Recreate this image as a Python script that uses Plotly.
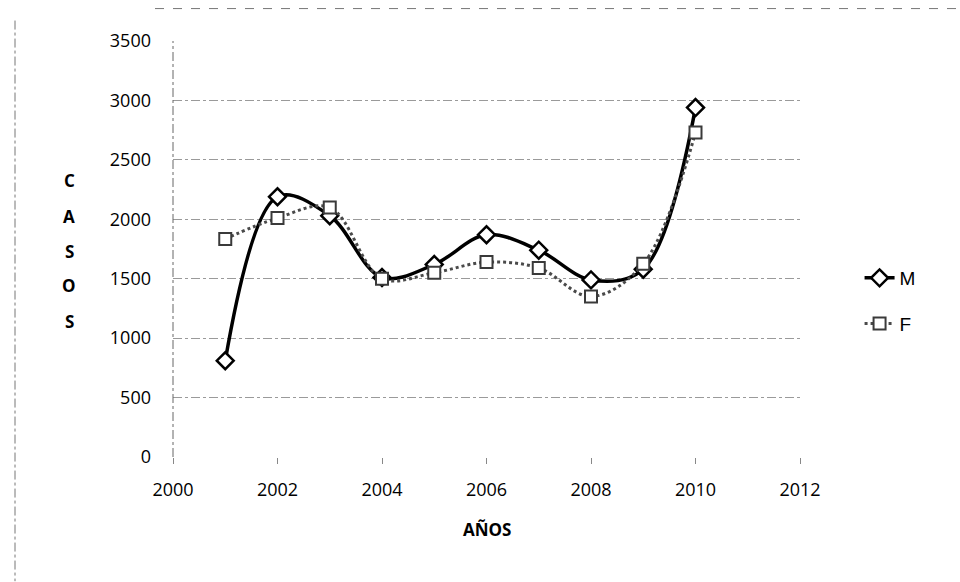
import plotly.graph_objects as go

years = [2001, 2002, 2003, 2004, 2005, 2006, 2007, 2008, 2009, 2010]
casos_m = [810, 2190, 2030, 1510, 1620, 1870, 1740, 1490, 1580, 2940]
casos_f = [1835, 2010, 2100, 1500, 1550, 1640, 1590, 1350, 1625, 2730]
x_ticks = [2000, 2002, 2004, 2006, 2008, 2010, 2012]
y_ticks = [0, 500, 1000, 1500, 2000, 2500, 3000, 3500]
y_title_letters = ["C", "A", "S", "O", "S"]

FONT = "Open Sans"

fig = go.Figure()
fig.add_trace(go.Scatter(
    x=years, y=casos_m, name="M", mode="lines+markers", legendgroup="m",
    line=dict(color="black", width=3.5, shape="spline", smoothing=1.0),
    marker=dict(symbol="diamond", size=13, color="white",
                line=dict(color="black", width=2.5)),
))
fig.add_trace(go.Scatter(
    x=years, y=casos_f, name="F", mode="lines+markers", legendgroup="f",
    line=dict(color="#4a4a4a", width=3, dash="dot", shape="spline", smoothing=1.0),
    marker=dict(symbol="square", size=12, color="white",
                line=dict(color="#3a3a3a", width=2)),
))

fig.update_layout(
    width=960, height=582,
    margin=dict(l=173, r=160, t=40.5, b=124.5),
    paper_bgcolor="white", plot_bgcolor="white",
    font=dict(family=FONT, color="black"),
    showlegend=True,
    legend=dict(x=1.095, y=0.375, xanchor="left", yanchor="middle",
                font=dict(family="Liberation Sans", size=19, color="black"),
                tracegroupgap=18, bgcolor="rgba(0,0,0,0)"),
    xaxis=dict(range=[2000, 2012], tickvals=x_ticks, ticktext=[str(v) for v in x_ticks],
               showgrid=False, zeroline=False, showline=False,
               ticks="outside", ticklen=6, tickcolor="#888", tickwidth=1,
               ticklabelstandoff=10,
               tickfont=dict(family=FONT, size=18, color="black")),
    yaxis=dict(range=[0, 3500], tickvals=y_ticks, ticktext=[str(v) for v in y_ticks],
               showgrid=True, gridcolor="#9a9a9a", griddash="dashdot", gridwidth=1,
               zeroline=False, showline=False,
               ticks="", ticklabelstandoff=21,
               tickfont=dict(family=FONT, size=18, color="black")),
)

fig.add_annotation(text="<b>AÑOS</b>", xref="paper", yref="paper",
                   x=0.5, y=-0.175, xanchor="center", yanchor="middle",
                   showarrow=False, font=dict(family=FONT, size=17, color="black"))

letter_y_px = [180, 216, 252, 286, 322]
for letter, py in zip(y_title_letters, letter_y_px):
    fig.add_annotation(text="<b>%s</b>" % letter, xref="paper", yref="paper",
                       x=(69 - 173) / 627, y=(457.5 - py) / 417,
                       xanchor="center", yanchor="middle", showarrow=False,
                       font=dict(family=FONT, size=17, color="black"))

# dash-dot y axis line
fig.add_shape(type="line", xref="paper", yref="paper", x0=0, x1=0, y0=0, y1=1,
              line=dict(color="#666", width=1, dash="dashdot"))
# scanned chart border fragments
fig.add_shape(type="line", xref="paper", yref="paper",
              x0=(155 - 173) / 627, x1=(960 - 173) / 627,
              y0=(457.5 - 8) / 417, y1=(457.5 - 8) / 417,
              line=dict(color="#777", width=1, dash="dash"))
fig.add_shape(type="line", xref="paper", yref="paper",
              x0=(15 - 173) / 627, x1=(15 - 173) / 627,
              y0=(457.5 - 20) / 417, y1=(457.5 - 582) / 417,
              line=dict(color="#777", width=1, dash="dashdot"))

fig.write_html("out.html")
